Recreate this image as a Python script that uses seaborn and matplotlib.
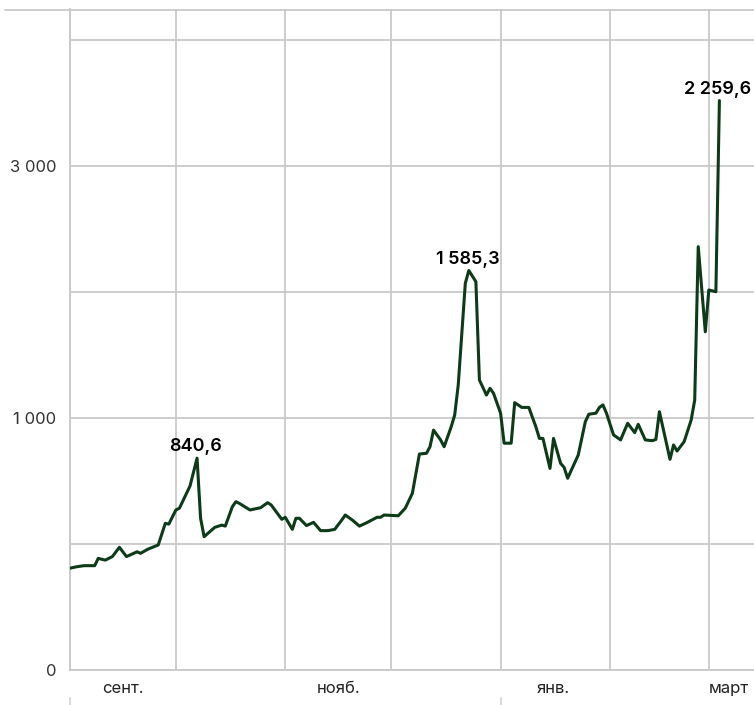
import pandas as pd
import matplotlib.pyplot as plt
import matplotlib.dates as mdates
import seaborn as sns
from matplotlib.lines import Line2D

# Данные
dates = [
    '2021-09-01', '2021-09-03', '2021-09-05', '2021-09-08', '2021-09-09', '2021-09-11',
    '2021-09-13', '2021-09-15', '2021-09-17', '2021-09-20', '2021-09-21', '2021-09-23',
    '2021-09-26', '2021-09-28', '2021-09-29', '2021-10-01', '2021-10-02', '2021-10-05',
    '2021-10-07', '2021-10-08', '2021-10-09', '2021-10-12', '2021-10-14', '2021-10-15',
    '2021-10-17', '2021-10-18', '2021-10-19', '2021-10-22', '2021-10-25', '2021-10-27',
    '2021-10-28', '2021-10-31', '2021-11-01', '2021-11-03', '2021-11-04', '2021-11-05',
    '2021-11-07', '2021-11-09', '2021-11-11', '2021-11-13', '2021-11-15', '2021-11-17',
    '2021-11-18', '2021-11-20', '2021-11-22', '2021-11-24', '2021-11-27', '2021-11-28',
    '2021-11-29', '2021-12-03', '2021-12-05', '2021-12-07', '2021-12-09', '2021-12-11',
    '2021-12-12', '2021-12-13', '2021-12-15', '2021-12-16', '2021-12-18', '2021-12-19',
    '2021-12-20', '2021-12-22', '2021-12-23', '2021-12-25', '2021-12-26', '2021-12-28',
    '2021-12-29', '2021-12-30', '2022-01-01', '2022-01-02', '2022-01-04', '2022-01-05',
    '2022-01-07', '2022-01-09', '2022-01-11', '2022-01-12', '2022-01-13', '2022-01-15',
    '2022-01-16', '2022-01-18', '2022-01-19', '2022-01-20', '2022-01-23', '2022-01-25',
    '2022-01-26', '2022-01-28', '2022-01-29', '2022-01-30', '2022-01-31', '2022-02-02',
    '2022-02-04', '2022-02-06', '2022-02-08', '2022-02-09', '2022-02-11', '2022-02-13',
    '2022-02-14', '2022-02-15', '2022-02-18', '2022-02-19', '2022-02-20', '2022-02-22',
    '2022-02-24', '2022-02-25', '2022-02-26', '2022-02-28', '2022-03-01', '2022-03-03',
    '2022-03-04',
]
values = [
    404, 410, 414, 414, 443, 436,
    450, 487, 450, 469, 463, 479,
    496, 582, 579, 635, 642, 730,
    840.6, 602, 529, 566, 575, 571,
    648, 668, 661, 635, 644, 664,
    655, 598, 606, 558, 602, 602,
    573, 586, 553, 553, 558, 595,
    615, 595, 571, 584, 606, 606,
    615, 612, 642, 701, 857, 860,
    886, 952, 913, 886, 965, 1012,
    1131, 1534, 1585.3, 1541, 1151, 1091,
    1118, 1098, 1019, 900, 900, 1061,
    1042, 1042, 965, 919, 919, 800,
    919, 820, 804, 761, 853, 985,
    1015, 1019, 1042, 1052, 1019, 933,
    913, 979, 942, 975, 913, 910,
    915, 1025, 836, 893, 869, 906,
    992, 1071, 1680, 1342, 1508, 1501,
    2259.6,
]
peak_dates = ['2021-10-07', '2021-12-23', '2022-03-04']

month_starts = ['2021-09-01', '2021-10-01', '2021-11-01', '2021-12-01',
                '2022-01-01', '2022-02-01', '2022-03-01']
month_label_pos = ['2021-09-16', '2021-11-16', '2022-01-16', '2022-03-01']
month_label_text = ['сент.', 'нояб.', 'янв.', 'март']
year_marks = ['2021-09-01', '2022-01-01']

ytick_vals = [0, 500, 1000, 1500, 2000, 2500]
ytick_text = ['0', '', '1 000', '', '3 000', '']

df = pd.DataFrame({'date': pd.to_datetime(dates), 'value': values})

sns.set_theme(style='white')
plt.rcParams['font.family'] = ['Inter', 'DejaVu Sans']

fig = plt.figure(figsize=(7.54, 7.05), dpi=100)
ax = fig.add_axes([70 / 754, 35 / 705, 684 / 754, 661 / 705])

grid_color = '#c9c9c9'

sns.lineplot(data=df, x='date', y='value', ax=ax, color='#0b3b17', linewidth=2.2, zorder=3)

# оси
start = pd.Timestamp('2021-09-01')
ax.set_xlim(start, start + pd.Timedelta(days=193.8))
ax.set_ylim(0, 2623)

ax.xaxis.remove_overlapping_locs = False
ax.set_xticks(mdates.date2num(pd.to_datetime(month_starts)))
ax.set_xticklabels([''] * len(month_starts))
ax.set_xticks(mdates.date2num(pd.to_datetime(month_label_pos)), minor=True)
ax.set_xticklabels(month_label_text, minor=True)
ax.tick_params(axis='x', which='both', length=0, pad=8, labelsize=12, labelcolor='#222222')
ax.get_xticklabels(minor=True)[-1].set_horizontalalignment('left')

ax.set_yticks(ytick_vals)
ax.set_yticklabels(ytick_text)
ax.tick_params(axis='y', length=0, pad=10, labelsize=12, labelcolor='#333333')

ax.grid(True, which='major', color=grid_color, linewidth=1.3)
ax.set_axisbelow(True)
for side in ['top', 'right']:
    ax.spines[side].set_visible(False)
for side in ['left', 'bottom']:
    ax.spines[side].set_color(grid_color)
    ax.spines[side].set_linewidth(1.3)

ax.set_xlabel('')
ax.set_ylabel('')

# верхняя линия
fig.add_artist(Line2D([5 / 754, 1], [1 - 9.5 / 705, 1 - 9.5 / 705],
                      transform=fig.transFigure, color=grid_color, linewidth=1.3))

# короткие отметки внизу
for d in year_marks:
    ax.axvline(pd.Timestamp(d), ymin=-0.06, ymax=-0.043, color='#d5d5d5',
               linewidth=1.3, clip_on=False)

# подписи пиков
for d in peak_dates:
    row = df[df['date'] == pd.Timestamp(d)].iloc[0]
    txt = f"{row['value']:,.1f}".replace(',', ' ').replace('.', ',')
    ax.annotate(txt, (row['date'], row['value']), xytext=(-1, 5), textcoords='offset points',
                ha='center', va='baseline', fontsize=13, fontweight='semibold', color='black')

fig.savefig('out.png', dpi=100)
